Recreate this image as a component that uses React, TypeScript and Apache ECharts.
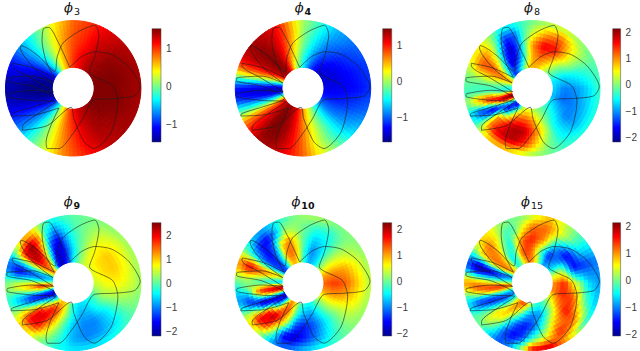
import React, { useEffect, useRef } from "react";
import * as echarts from "echarts";

const angles = [0,20,40,60,75,90,100,110,120,130,140,150,156,162,168,174,180,186,192,198,204,210,220,230,240,250,260,270,285,300,320,340];
const radii = [31,48,65,83,100];

const phi3 = [
[1.5,1.5,1.45,1.35,1.2,1.05,.85,.6,.3,-.3,-.8,-1.15,-1.3,-1.4,-1.45,-1.48,-1.48,-1.48,-1.48,-1.45,-1.35,-1.2,-.9,-.4,.2,.6,.9,1.1,1.3,1.4,1.5,1.5],
[1.5,1.5,1.45,1.35,1.2,1,.8,.55,.2,-.25,-.7,-1.05,-1.2,-1.35,-1.45,-1.48,-1.48,-1.48,-1.48,-1.4,-1.25,-1.1,-.8,-.35,.15,.55,.85,1.05,1.3,1.4,1.5,1.5],
[1.5,1.5,1.45,1.3,1.1,.95,.75,.5,.15,-.2,-.6,-.95,-1.1,-1.25,-1.35,-1.45,-1.48,-1.48,-1.4,-1.3,-1.15,-1,-.7,-.3,.15,.5,.8,1,1.25,1.4,1.45,1.5],
[1.45,1.45,1.4,1.25,1.05,.9,.7,.45,.1,-.2,-.55,-.85,-1,-1.15,-1.25,-1.35,-1.4,-1.4,-1.35,-1.25,-1.1,-.95,-.65,-.25,.1,.45,.75,.95,1.2,1.35,1.4,1.45],
[1.4,1.4,1.35,1.2,1,.85,.6,.35,0,-.3,-.55,-.85,-1,-1.1,-1.2,-1.3,-1.35,-1.35,-1.3,-1.2,-1.05,-.9,-.6,-.2,.1,.4,.7,.9,1.1,1.3,1.4,1.4],
];
const phi4 = [
[-1.35,-1.4,-1.45,-1.3,-1,-.55,-.2,.1,.8,1.3,1.4,1.2,.9,.3,-.3,-1,-1.4,-1.45,-1.2,-.6,.1,.8,1.25,1.4,1.4,1.25,1,.7,.2,-.3,-.85,-1.2],
[-1.35,-1.4,-1.35,-1.15,-.8,-.35,.05,.5,1,1.4,1.45,1.3,1,.5,-.1,-.9,-1.4,-1.45,-1.3,-.7,-.1,.7,1.2,1.45,1.45,1.3,1.05,.7,.15,-.3,-.9,-1.2],
[-1.3,-1.3,-1.2,-.95,-.6,-.15,.3,.75,1.15,1.4,1.45,1.3,1.1,.7,.05,-.8,-1.35,-1.4,-1.2,-.7,-.05,.7,1.2,1.45,1.46,1.35,1.05,.75,.2,-.25,-.85,-1.15],
[-1.25,-1.2,-1.05,-.8,-.45,-.05,.45,.9,1.2,1.35,1.45,1.3,1.1,.8,.2,-.65,-1.3,-1.35,-1.15,-.6,0,.7,1.15,1.45,1.45,1.3,1.05,.75,.2,-.25,-.75,-1.05],
[-1.15,-1.1,-.95,-.7,-.35,0,.45,.95,1.2,1.3,1.35,1.25,1.1,.75,.2,-.6,-1.2,-1.25,-1.05,-.5,0,.6,1.1,1.35,1.35,1.2,1,.8,.3,-.1,-.6,-.95],
];
const phi8 = [
[-.7,-.6,-.2,.3,.7,.9,.7,.2,-.4,-1,-1.6,-.9,.1,.8,.6,-.1,-.6,-.4,.9,2,2.15,.8,-1.4,-1.9,-.4,.3,.4,.2,0,-.2,-.5,-.8],
[-1.1,-.7,0,.9,1.2,.9,.1,-.9,-1.6,-1.9,-.9,.2,1,1.1,.5,0,-.3,-.4,.4,1.9,1.7,-.9,-1.8,-.2,1,1.2,1.2,1,.3,-.3,-.8,-1.2],
[-1,-.5,.5,1.6,1.7,1,-.1,-1.3,-2,-1.3,.2,1.1,1.3,.9,.5,0,-.3,-.2,1.2,1.6,-.6,-2,.9,1.3,1.8,2,1.9,1.4,.5,-.5,-1.1,-1.1],
[-.7,-.3,.4,1.2,.9,.3,-.3,-1.3,-1.5,-.2,.8,1.2,1.2,.8,.2,-.1,-.3,-.2,.9,.3,-1.3,-1.2,1,1.7,1.9,1.9,1.6,1,.1,-.5,-.9,-.8],
[-.3,-.2,0,.2,.1,-.1,-.3,-.5,-.4,.1,.5,.5,.4,.2,0,-.1,-.2,-.3,0,-.3,-.6,-.4,.2,.6,.7,.5,.3,.1,-.1,-.3,-.4,-.4],
];
const phi9 = [
[.5,.6,.6,.5,.2,-.4,-1,-1.6,-2,-1.9,-.2,1.3,1.1,.2,-.6,-.6,.1,1.4,1,-.7,-1.5,-2,-1.2,.2,1,1,.3,-.2,-.5,-.5,-.3,.1],
[.7,.9,.9,.7,.2,-.5,-1.2,-1.8,-1.9,-.7,1.3,1.7,1.1,-.1,-1,-.8,.3,1.9,.9,-1,-1.7,-1.2,.4,1.8,1.7,.9,.2,-.4,-.8,-.7,-.2,.4],
[.8,1,1,.7,.2,-.3,-.9,-1.8,-1.3,.6,2.2,2.3,.8,-.6,-1.3,-.7,.5,1.2,.2,-1.3,-1.4,-.2,2,2.1,1.4,.5,-.2,-.7,-1,-1,-.5,.3],
[.6,.7,.7,.5,.2,-.1,-.5,-1,-.3,1.6,2.5,1.9,.3,-1.2,-1.7,-.9,.4,.7,-.2,-.8,-.5,.7,2,1.9,.8,.1,-.4,-.8,-1,-.9,-.5,.2],
[.3,.3,.3,.2,.1,0,-.1,-.3,.2,.9,.9,.1,-.5,-1,-1,-.4,.1,.2,-.1,-.2,.1,.5,.9,.6,.1,-.2,-.4,-.5,-.5,-.4,-.2,.1],
];
const phi10 = [
[1.3,1,.3,-.6,-.8,-.3,.4,.9,.8,-.2,-1.2,-1.3,-.5,.5,.4,-.3,-.7,.7,2,1.8,0,-1.4,-1.8,-.2,1.2,.8,.1,-.2,-.4,-.2,.4,1],
[1.5,1.1,.4,-.6,-1,-.2,.7,1.3,1.1,-.4,-1.4,-1.3,-.5,.9,.8,-.1,-.4,1,1.9,1.3,-.7,-1.8,-1.1,.9,1.5,.7,-.3,-.8,-.9,-.4,.4,1.1],
[1.3,1,.3,-.5,-.7,-.1,.6,1.2,.7,-1,-1.6,-1.2,-.1,1.2,1.1,.2,-.2,.7,1.6,.1,-1.6,-1.7,1.5,2.1,1.2,.1,-1.2,-1.5,-1.2,-.6,.2,.9],
[.8,.6,.2,-.3,-.3,0,.2,.2,-.9,-1.6,-1.5,-.6,.6,1.8,1.4,.5,.1,.1,-.6,-1.3,-1.3,.1,1.9,1.5,0,-1.6,-1.8,-1.5,-1,-.4,.2,.6],
[.3,.2,.1,.1,.3,.2,0,-.3,-.6,-.8,-.6,0,.6,1,.8,.3,-.1,-.5,-.8,-.8,-.3,.3,.6,.1,-.8,-1.1,-1,-.7,-.4,-.2,.1,.2],
];
const phi15 = [
[1,.4,-.6,-.9,.1,1,1.1,.7,0,-.4,.3,1,.5,-.6,-.9,-.5,0,1,.9,-.3,-.8,-.9,-.4,.5,1.3,1.5,.8,.1,-.3,-.2,.3,1],
[1.5,.4,-.9,-1.4,-.2,1.1,1.4,1.2,-.1,-.6,.6,1.2,.7,-.9,-1.3,-.6,.3,1.4,1.2,-.3,-1.2,-1.3,-.2,1,.8,0,-.7,-1,-.9,-.1,1,1.5],
[.4,-1.5,-1.6,-.5,1,1.5,1.4,.7,-.5,0,1,1.2,.5,-1.4,-1.6,-.5,.6,1.4,1,-.8,-1.5,-.9,.7,.7,-.4,-1.2,-1.5,-1.3,-.3,.7,1.6,1.3],
[-.6,-1.3,-.4,.5,1.2,1.2,.6,-.2,-.2,.6,1.2,.9,-.4,-1.9,-1.7,-.2,1,1.3,.4,-1.1,-1.2,-.3,.5,-.1,-1.2,-1.6,-1.3,-.3,.5,1.5,1.1,-.1],
[-.9,-1,-.3,.3,.8,.3,0,0,.2,.6,.7,0,-.7,-1.2,-.9,.3,1,.6,-.2,-.6,-.5,-.1,-.1,-.7,-1.2,-.9,.2,1.8,2,.9,-.3,-.7],
];

const panelNames = ["3","4","8","9","10","15"];
const subWeights = ["normal","bold","normal","bold","bold","normal"];
const panelValues = [phi3,phi4,phi8,phi9,phi10,phi15];
const barMin = [-1.47,-1.67,-2.18,-2.19,-2.1,-2.06];
const barMax = [1.51,1.47,2.15,2.52,2.26,2.15];
const barTicks = [[-1,0,1],[-1,0,1],[-2,-1,0,1,2],[-2,-1,0,1,2],[-2,-1,0,1,2],[-2,-1,0,1,2]];

const orbit = [
[-5,31],[13,47],[32,54],[57,50],[82,32],[99,2],[91,-11],[62,-15],[31,-17],
[14,-45],[1,-65],[-21,-89],[-38,-89],[-40,-79],[-33,-55],[-21,-29],
[-55,-39],[-92,-41],[-90,-37],[-58,-27],[-27,-15],
[-60,3],[-98,11],[-98,15],[-60,18],[-30,8],
[-58,30],[-78,60],[-77,63],[-52,48],[-27,25],
[-24,45],[-15,67],[10,85],[32,93],[38,79],[32,47],[24,24],
[58,4],[66,-20],[56,-65],[31,-89],[16,-79],[1,-45],[-3,-28],
[-38,-55],[-75,-62],[-75,-57],[-48,-35],[-26,-20],
[-60,-18],[-98,-12],[-97,-8],[-62,-3],[-29,-5],
[-60,14],[-90,33],[-90,37],[-58,30],[-28,16],
[-40,40],[-46,70],[-44,88],[-36,90],[-24,72],[-5,31],
];

const jet: [number, number[]][] = [
[0,[0,0,143]],[0.125,[0,0,255]],[0.375,[0,255,255]],[0.625,[255,255,0]],[0.875,[255,0,0]],[1,[128,0,0]],
];
function jetColor(t: number) {
  const c = Math.min(1, Math.max(0, t));
  for (let i = 1; i < jet.length; i++) {
    if (c <= jet[i][0]) {
      const f = (c - jet[i-1][0]) / (jet[i][0] - jet[i-1][0]);
      const a = jet[i-1][1], b = jet[i][1];
      return `rgb(${a.map((v, k) => Math.round(v + (b[k]-v)*f)).join(",")})`;
    }
  }
  return "rgb(128,0,0)";
}

const R = 67.7;
const centers = [[73.2,88.3],[303,88.3],[532.3,88.3],[73.2,283],[303,283],[532.3,283]];
const barLeft = [152,382.7,612.7,152,382.7,612.7];
const barTop = [28.7,28.7,28.7,222.7,222.7,222.7];
const titleTop = [1,1,1,195,195,195];
const titleX = [72,303,532,72,303,532];

function App() {
  const ref = useRef<HTMLDivElement>(null);
  useEffect(() => {
    const chart = echarts.init(ref.current!, null, { renderer: "svg" });
    const grid: any[] = [], xAxis: any[] = [], yAxis: any[] = [], series: any[] = [], title: any[] = [];
    panelValues.forEach((rows, p) => {
      const [cx, cy] = centers[p];
      const lo = barMin[p], hi = barMax[p];
      const col = (v: number) => jetColor((v - lo) / (hi - lo));
      grid.push({ left: cx - R, top: cy - R, width: 2*R, height: 2*R });
      xAxis.push({ type: "value", gridIndex: p, min: -100, max: 100, show: false });
      yAxis.push({ type: "value", gridIndex: p, min: -100, max: 100, show: false });
      const cells: number[][] = [];
      for (let r = 0; r < radii.length - 1; r++)
        for (let a = 0; a < angles.length; a++) cells.push([a, r, rows[r][a]]);
      series.push({
        type: "custom", xAxisIndex: p, yAxisIndex: p, data: cells, silent: true, clip: false,
        encode: { x: 0, y: 1 },
        renderItem: (_: any, api: any) => {
          const a = api.value(0), r = api.value(1);
          const a2 = (a + 1) % angles.length;
          const t0 = angles[a], t1 = a2 === 0 ? 360 : angles[a2];
          const r0 = radii[r], r1 = radii[r + 1];
          const v00 = rows[r][a], v10 = rows[r][a2], v01 = rows[r+1][a], v11 = rows[r+1][a2];
          const na = Math.max(2, Math.ceil((t1 - t0) / 4)), nr = 3;
          const pt = (rad: number, deg: number) => {
            const q = deg * Math.PI / 180;
            return api.coord([rad * Math.cos(q), rad * Math.sin(q)]);
          };
          const children: any[] = [];
          for (let i = 0; i < na; i++) for (let j = 0; j < nr; j++) {
            const u0 = i / na, u1 = (i + 1) / na, w0 = j / nr, w1 = (j + 1) / nr;
            const um = (u0 + u1) / 2, wm = (w0 + w1) / 2;
            const v = (v00*(1-um) + v10*um)*(1-wm) + (v01*(1-um) + v11*um)*wm;
            const c = col(v);
            const ta = t0 + (t1-t0)*u0, tb = t0 + (t1-t0)*u1, ra = r0 + (r1-r0)*w0, rb = r0 + (r1-r0)*w1;
            children.push({
              type: "polygon",
              shape: { points: [pt(ra,ta), pt(ra,tb), pt(rb,tb), pt(rb,ta)] },
              style: { fill: c, stroke: c, lineWidth: 1 },
            });
          }
          return { type: "group", children };
        },
      });
      series.push({
        type: "line", xAxisIndex: p, yAxisIndex: p, data: orbit, symbol: "none", smooth: 0.25,
        silent: true, z: 5, clip: false,
        lineStyle: { color: "#1c1c1c", width: 0.7, opacity: 0.85 },
      });
      title.push({
        text: `{a|\u03D5}{b|${panelNames[p]}}`,
        left: titleX[p], top: titleTop[p], textAlign: "center", padding: 0,
        textStyle: {
          fontWeight: "normal",
          rich: {
            a: { fontFamily: "DejaVu Serif", fontStyle: "italic", fontWeight: "normal", fontSize: 13, color: "#111", padding: [0,1,3,0] },
            b: { fontFamily: "DejaVu Sans", fontWeight: subWeights[p], fontSize: 9.5, color: "#111", padding: [5,0,0,0] },
          },
        },
      });
    });
    panelValues.forEach((_, p) => {
      const g = p + 6;
      grid.push({ left: barLeft[p], top: barTop[p], width: 9, height: 113.3 });
      xAxis.push({ type: "value", gridIndex: g, min: 0, max: 1, show: false });
      yAxis.push({
        type: "value", gridIndex: g, position: "right", min: barMin[p], max: barMax[p],
        axisLine: { show: false }, axisTick: { show: false }, splitLine: { show: false },
        axisLabel: {
          show: true, margin: 5, fontFamily: "Liberation Sans", fontSize: 10, color: "#3c3c3c",
          customValues: barTicks[p],
          formatter: (v: number) => String(v).replace("-", "\u2212"),
        },
      });
      series.push({
        type: "custom", xAxisIndex: g, yAxisIndex: g, silent: true,
        data: [[0, barMin[p], 1, barMax[p]]], encode: { x: [0, 2], y: [1, 3] },
        renderItem: (_: any, api: any) => {
          const a = api.coord([api.value(0), api.value(3)]);
          const b = api.coord([api.value(2), api.value(1)]);
          return {
            type: "rect",
            shape: { x: a[0], y: a[1], width: b[0]-a[0], height: b[1]-a[1] },
            style: {
              stroke: "#444", lineWidth: 0.5,
              fill: new echarts.graphic.LinearGradient(0, 1, 0, 0,
                jet.map(([o, c]) => ({ offset: o, color: `rgb(${c.join(",")})` }))),
            },
          };
        },
      });
    });
    chart.setOption({ animation: false, backgroundColor: "#fff", title, grid, xAxis, yAxis, series });
    return () => chart.dispose();
  }, []);
  return <div ref={ref} style={{ position: "fixed", left: 0, top: 0, width: 640, height: 351 }} />;
}

export default App;
